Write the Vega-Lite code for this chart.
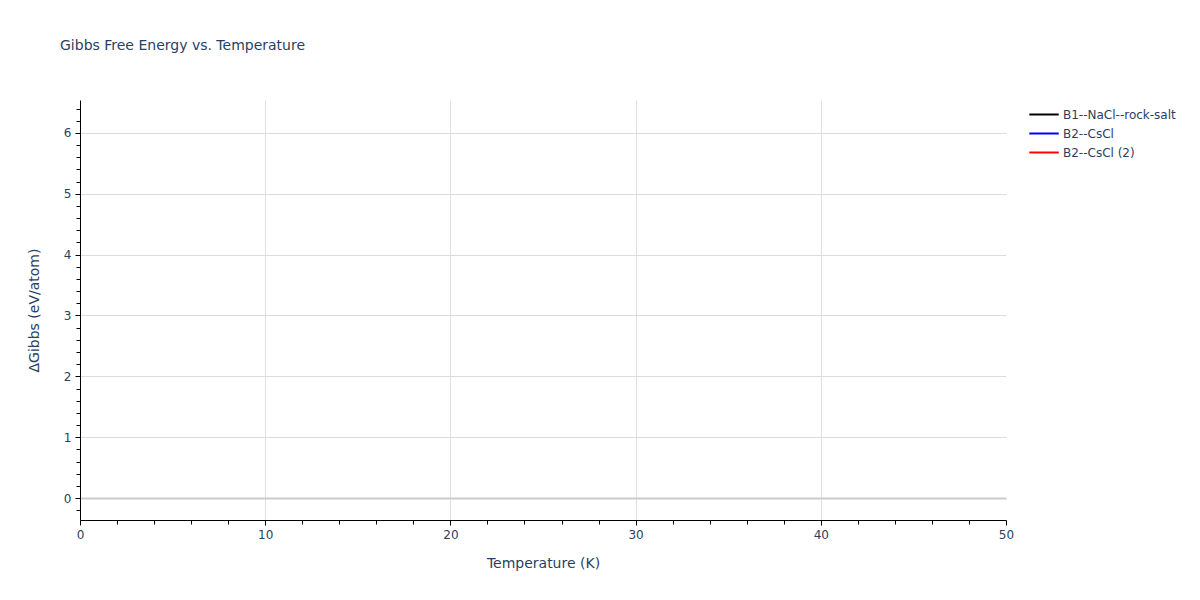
{
  "$schema": "https://vega.github.io/schema/vega-lite/v6.json",
  "width": 926,
  "height": 420,
  "autosize": {"type": "none"},
  "padding": {"left": 80, "top": 100, "right": 194, "bottom": 80},
  "background": "white",
  "config": {
    "font": "DejaVu Sans",
    "view": {"stroke": null}
  },
  "title": {
    "text": "Gibbs Free Energy vs. Temperature",
    "anchor": "start",
    "frame": "group",
    "dx": -20,
    "offset": 47,
    "fontSize": 14,
    "fontWeight": "normal",
    "font": "DejaVu Sans",
    "color": "#2a3f5f"
  },
  "data": {
    "values": [
      {"T": 60, "G": 0.0, "phase": "B1--NaCl--rock-salt"},
      {"T": 100, "G": 0.0, "phase": "B1--NaCl--rock-salt"},
      {"T": 60, "G": 6.18, "phase": "B2--CsCl"},
      {"T": 100, "G": 6.15, "phase": "B2--CsCl"},
      {"T": 60, "G": 6.18, "phase": "B2--CsCl (2)"},
      {"T": 100, "G": 6.15, "phase": "B2--CsCl (2)"}
    ]
  },
  "layer": [
    {
      "mark": {"type": "line", "clip": true, "strokeWidth": 2},
      "encoding": {
        "x": {
          "field": "T", "type": "quantitative",
          "scale": {"domain": [0, 50], "nice": false, "zero": false},
          "axis": {
            "title": "Temperature (K)",
            "values": [0, 10, 20, 30, 40, 50],
            "labelFlush": false,
            "grid": true,
            "gridColor": {"condition": {"test": "datum.value === 0 || datum.value === 50", "value": "transparent"}, "value": "#e0e0e0"},
            "gridWidth": 1,
            "domainColor": "#000000",
            "domainWidth": 1,
            "tickColor": "#000000",
            "tickSize": 5,
            "labelPadding": 4,
            "labelFontSize": 12,
            "labelColor": "#2a3f5f",
            "labelFont": "DejaVu Sans",
            "titleFont": "DejaVu Sans",
            "titleFontSize": 14,
            "titleFontWeight": "normal",
            "titleColor": "#2a3f5f",
            "titlePadding": 16
          }
        },
        "y": {
          "field": "G", "type": "quantitative",
          "scale": {"domain": [-0.36, 6.54], "nice": false, "zero": false},
          "axis": {
            "title": "ΔGibbs (eV/atom)",
            "values": [0, 1, 2, 3, 4, 5, 6],
            "labelFlush": false,
            "grid": true,
            "gridColor": {"condition": {"test": "datum.value === 0", "value": "#cccccc"}, "value": "#dcdcdc"},
            "gridWidth": {"condition": {"test": "datum.value === 0", "value": 2}, "value": 1},
            "domainColor": "#000000",
            "domainWidth": 1,
            "tickColor": "#000000",
            "tickSize": 5,
            "labelPadding": 4,
            "labelFontSize": 12,
            "labelColor": "#2a3f5f",
            "labelFont": "DejaVu Sans",
            "titleFont": "DejaVu Sans",
            "titleFontSize": 14,
            "titleFontWeight": "normal",
            "titleColor": "#2a3f5f",
            "titlePadding": 22
          }
        },
        "color": {
          "field": "phase", "type": "nominal",
          "scale": {"domain": ["B1--NaCl--rock-salt", "B2--CsCl", "B2--CsCl (2)"], "range": ["#000000", "#0000ff", "#ff0000"]},
          "legend": {
            "title": null,
            "orient": "none",
            "legendX": 954,
            "legendY": 4,
            "symbolType": "M-1.6,0H1.5",
            "symbolSize": 361,
            "symbolStrokeWidth": 2,
            "symbolFillColor": "transparent",
            "rowPadding": 2,
            "labelOffset": 8,
            "labelFontSize": 12,
            "labelFont": "DejaVu Sans",
            "labelColor": "#2a3f5f"
          }
        }
      }
    },
    {
      "mark": {"type": "line", "clip": true, "opacity": 0},
      "encoding": {
        "x": {
          "field": "T", "type": "quantitative",
          "scale": {"domain": [0, 50], "nice": false, "zero": false},
          "axis": {
            "orient": "bottom",
            "title": null,
            "values": [2, 4, 6, 8, 12, 14, 16, 18, 22, 24, 26, 28, 32, 34, 36, 38, 42, 44, 46, 48],
            "labels": false,
            "grid": false,
            "domain": false,
            "tickColor": "#000000",
            "tickSize": 4
          }
        },
        "y": {
          "field": "G", "type": "quantitative",
          "scale": {"domain": [-0.36, 6.54], "nice": false, "zero": false},
          "axis": {
            "orient": "left",
            "title": null,
            "values": [-0.2, 0.2, 0.4, 0.6, 0.8, 1.2, 1.4, 1.6, 1.8, 2.2, 2.4, 2.6, 2.8, 3.2, 3.4, 3.6, 3.8, 4.2, 4.4, 4.6, 4.8, 5.2, 5.4, 5.6, 5.8, 6.2, 6.4],
            "labels": false,
            "grid": false,
            "domain": false,
            "tickColor": "#000000",
            "tickSize": 4
          }
        },
        "detail": {"field": "phase", "type": "nominal"}
      }
    }
  ],
  "resolve": {"axis": {"x": "independent", "y": "independent"}}
}
